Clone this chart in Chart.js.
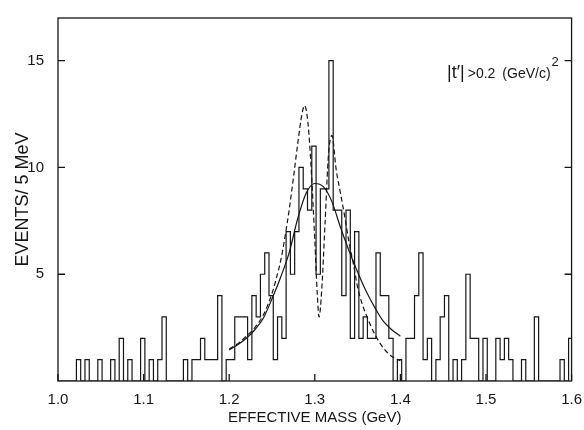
<!DOCTYPE html>
<html>
<head>
<meta charset="utf-8">
<script src="https://cdn.jsdelivr.net/npm/chart.js@4.4.1/dist/chart.umd.min.js"></script>
<style>
  html, body { margin: 0; padding: 0; background: #fff; }
  #wrap { width: 584px; height: 430px; }
</style>
</head>
<body>
<div id="wrap"><canvas id="massChart" width="584" height="430"></canvas></div>
<script>
// Histogram: events per 5 MeV bin (first bin edge)
const binStart = 1.0015;
const binWidth = 0.005;
const counts = [
    0, 0, 0, 0, 1, 0, 1, 0, 0, 1,
    0, 0, 1, 0, 2, 0, 1, 0, 0, 2,
    0, 1, 0, 1, 3, 0, 0, 0, 0, 1,
    0, 1, 1, 2, 1, 1, 1, 4, 0, 1,
    1, 3, 3, 3, 1, 4, 3, 5, 6, 4,
    1, 3, 2, 7, 5, 7, 10, 9, 8, 11,
    5, 9, 9, 15, 8, 8, 4, 8, 2, 7,
    2, 3, 2, 2, 6, 4, 4, 2, 0, 1,
    0, 2, 2, 4, 6, 1, 2, 0, 1, 3,
    4, 0, 1, 0, 1, 5, 2, 2, 0, 2,
    0, 0, 2, 1, 2, 1, 0, 0, 1, 0,
    0, 3, 0, 0, 0, 0, 0, 1, 0, 2
];

// Solid fit curve
const solidX = [1.20, 1.21, 1.22, 1.23, 1.24, 1.25, 1.26, 1.27, 1.28, 1.29, 1.30,
                1.31, 1.32, 1.33, 1.34, 1.35, 1.36, 1.37, 1.38, 1.39, 1.40];
const solidY = [1.45, 1.7, 2.0, 2.4, 2.95, 3.85, 4.85, 6.0, 7.6, 8.8, 9.25,
                9.1, 8.4, 7.2, 6.1, 5.1, 4.2, 3.45, 2.8, 2.4, 2.1];

// Dashed fit curve
const dashX = [1.200, 1.210, 1.220, 1.230, 1.240, 1.250, 1.255, 1.260, 1.265, 1.270,
               1.275, 1.280, 1.285, 1.288, 1.292, 1.296, 1.300, 1.303, 1.305, 1.308,
               1.312, 1.316, 1.320, 1.325, 1.330, 1.335, 1.340, 1.345, 1.350, 1.355,
               1.360, 1.370, 1.380, 1.390, 1.400];
const dashY = [1.5, 1.75, 2.1, 2.5, 3.1, 4.1, 4.8, 5.6, 6.7, 8.0,
               9.5, 11.1, 12.5, 12.9, 12.1, 9.8, 6.6, 4.0, 3.0, 4.2,
               7.4, 10.6, 11.5, 9.9, 8.8, 7.7, 6.5, 5.5, 4.4, 3.65,
               3.1, 2.2, 1.55, 1.15, 0.95];

const xTicks = [1.0, 1.1, 1.2, 1.3, 1.4, 1.5, 1.6];
const yTicks = [5, 10, 15];

const ink = '#151515';
const fontFamily = "'Liberation Sans', 'DejaVu Sans', sans-serif";

// histogram outline as a stepped line through the left bin edges
const histPoints = counts.map((c, i) => ({ x: binStart + i * binWidth, y: c }));
histPoints.push({ x: binStart + counts.length * binWidth, y: 0 });

// frame, inward ticks and the |t'| note
const framePlugin = {
    id: 'frameTicks',
    afterDatasetsDraw(chart) {
        const { ctx, chartArea: a, scales: { x, y } } = chart;
        ctx.save();
        ctx.strokeStyle = ink;
        ctx.lineWidth = 1.3;
        ctx.strokeRect(a.left, a.top, a.right - a.left, a.bottom - a.top);

        ctx.beginPath();
        xTicks.forEach(v => {
            const px = x.getPixelForValue(v);
            ctx.moveTo(px, a.bottom);
            ctx.lineTo(px, a.bottom - 7);
        });
        yTicks.forEach(v => {
            const py = y.getPixelForValue(v);
            ctx.moveTo(a.left, py);
            ctx.lineTo(a.left + 7, py);
            ctx.moveTo(a.right, py);
            ctx.lineTo(a.right - 7, py);
        });
        ctx.stroke();

        // annotation
        ctx.fillStyle = ink;
        ctx.textBaseline = 'alphabetic';
        let tx = 447;
        const ty = 78;
        ctx.font = `18px ${fontFamily}`;
        ctx.fillText("|t\u2032|", tx, ty);
        tx += ctx.measureText("|t\u2032|").width + 3;
        ctx.font = `14px ${fontFamily}`;
        ctx.fillText(">0.2", tx, ty);
        tx += ctx.measureText(">0.2").width + 7;
        ctx.fillText("(GeV/c)", tx, ty);
        tx += ctx.measureText("(GeV/c)").width + 1;
        ctx.font = `13px ${fontFamily}`;
        ctx.fillText("2", tx, ty - 12);
        ctx.restore();
    }
};

const ctx = document.getElementById('massChart').getContext('2d');
new Chart(ctx, {
    type: 'line',
    data: {
        datasets: [
            {
                label: 'Events',
                data: histPoints,
                stepped: 'before',
                borderColor: ink,
                borderWidth: 1.2,
                pointRadius: 0,
                fill: false
            },
            {
                label: 'Fit',
                data: solidX.map((v, i) => ({ x: v, y: solidY[i] })),
                borderColor: ink,
                borderWidth: 1.2,
                pointRadius: 0,
                cubicInterpolationMode: 'monotone',
                fill: false
            },
            {
                label: 'Fit (two resonances)',
                data: dashX.map((v, i) => ({ x: v, y: dashY[i] })),
                borderColor: ink,
                borderWidth: 1.2,
                borderDash: [5, 3],
                pointRadius: 0,
                cubicInterpolationMode: 'monotone',
                fill: false
            }
        ]
    },
    options: {
        responsive: false,
        animation: false,
        devicePixelRatio: 1,
        layout: { padding: { left: 0, right: 12, top: 18, bottom: 0 } },
        plugins: {
            legend: { display: false },
            tooltip: { enabled: false }
        },
        scales: {
            x: {
                type: 'linear',
                min: 1.0,
                max: 1.6,
                afterBuildTicks: s => { s.ticks = xTicks.map(v => ({ value: v })); },
                afterFit: s => { s.height = 49; },
                grid: { display: false },
                border: { display: false },
                ticks: {
                    autoSkip: false,
                    maxRotation: 0,
                    padding: 2,
                    color: ink,
                    font: { family: fontFamily, size: 15 },
                    callback: v => Number(v).toFixed(1)
                },
                title: {
                    display: true,
                    text: 'EFFECTIVE MASS (GeV)',
                    color: ink,
                    font: { family: fontFamily, size: 15 },
                    padding: { top: 0, bottom: 3 }
                }
            },
            y: {
                min: 0,
                max: 17,
                afterBuildTicks: s => { s.ticks = yTicks.map(v => ({ value: v })); },
                afterFit: s => { s.width = 58; },
                grid: { display: false },
                border: { display: false },
                ticks: {
                    padding: 6,
                    color: ink,
                    font: { family: fontFamily, size: 15 }
                },
                title: {
                    display: true,
                    text: 'EVENTS/ 5 MeV',
                    color: ink,
                    font: { family: fontFamily, size: 18 },
                    padding: { top: 12, bottom: 0 }
                }
            }
        }
    },
    plugins: [framePlugin]
});
</script>
</body>
</html>
